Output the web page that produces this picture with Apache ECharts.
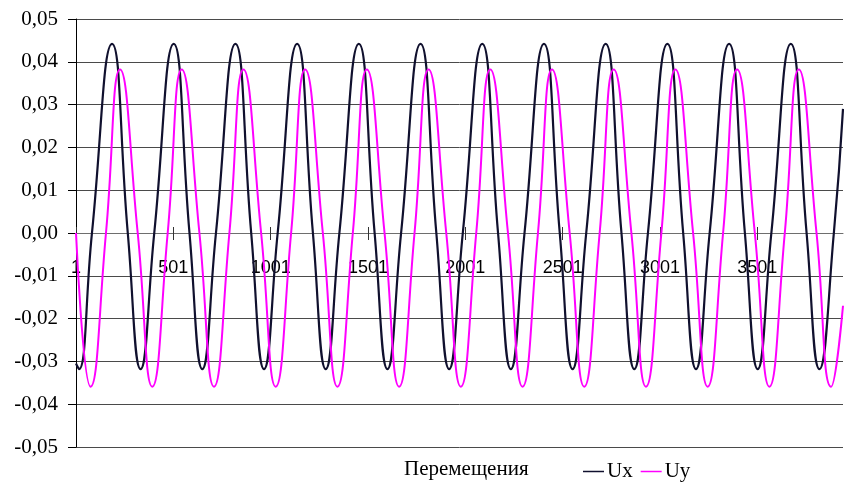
<!DOCTYPE html>
<html>
<head>
<meta charset="utf-8">
<script src="https://cdn.jsdelivr.net/npm/echarts@6/dist/echarts.min.js"></script>
<style>
  html, body { margin: 0; padding: 0; background: #fff; }
  #chart { width: 844px; height: 486px; }
</style>
</head>
<body>
<div id="chart"></div>
<script>
// point numbers (0-based, label shows n+1) and displacement values
const uxIndex = [0, 15, 82, 185, 266, 332, 402, 502, 583, 649, 719, 819, 900,
  966, 1036, 1136, 1217, 1283, 1353, 1453, 1534, 1600, 1670, 1770, 1851,
  1917, 1987, 2087, 2168, 2234, 2304, 2404, 2485, 2551, 2621, 2721, 2802,
  2868, 2938, 3038, 3119, 3185, 3255, 3355, 3436, 3502, 3572, 3672, 3753,
  3819, 3893, 3940]
const uxValue = [-0.0305, -0.0318, 0, 0.0442, 0, -0.0318, 0, 0.0442, 0, -0.0318, 0, 0.0442, 0,
  -0.0318, 0, 0.0442, 0, -0.0318, 0, 0.0442, 0, -0.0318, 0, 0.0442, 0,
  -0.0318, 0, 0.0442, 0, -0.0318, 0, 0.0442, 0, -0.0318, 0, 0.0442, 0,
  -0.0318, 0, 0.0442, 0, -0.0318, 0, 0.0442, 0, -0.0318, 0, 0.0442, 0,
  -0.0318, 0, 0.029]

const uyIndex = [0, 75, 154, 226, 317, 392, 471, 543, 634, 709, 788, 860, 951,
  1026, 1105, 1177, 1268, 1343, 1422, 1494, 1585, 1660, 1739, 1811, 1902,
  1977, 2056, 2128, 2219, 2294, 2373, 2445, 2536, 2611, 2690, 2762, 2853,
  2928, 3007, 3079, 3170, 3245, 3324, 3396, 3487, 3562, 3641, 3713, 3804,
  3879, 3940]
const uyValue = [0, -0.0359, 0, 0.0382, 0, -0.0359, 0, 0.0382, 0, -0.0359, 0, 0.0382, 0,
  -0.0359, 0, 0.0382, 0, -0.0359, 0, 0.0382, 0, -0.0359, 0, 0.0382, 0,
  -0.0359, 0, 0.0382, 0, -0.0359, 0, 0.0382, 0, -0.0359, 0, 0.0382, 0,
  -0.0359, 0, 0.0382, 0, -0.0359, 0, 0.0382, 0, -0.0359, 0, 0.0382, 0,
  -0.0359, -0.017]

const xTicks = [0, 500, 1000, 1500, 2000, 2500, 3000, 3500]
const xMax = 3940
const yMin = -0.05
const yMax = 0.05
const yStep = 0.01

const uxData = uxIndex.map((n, i) => [n, uxValue[i]])
const uyData = uyIndex.map((n, i) => [n, uyValue[i]])

// plot is 428px tall, zero sits in the middle -> shift the x axes by half of it
const zeroShift = -214

const chart = echarts.init(document.getElementById('chart'), null, { renderer: 'canvas' })

chart.setOption({
  animation: false,
  title: {
    text: 'Перемещения',
    left: 399,
    top: 454,
    textStyle: {
      fontFamily: 'Liberation Serif',
      fontSize: 21,
      fontWeight: 'normal',
      color: '#000'
    }
  },
  legend: {
    left: 578,
    top: 456,
    icon: 'rect',
    itemWidth: 21,
    itemHeight: 1.5,
    itemGap: 8,
    textStyle: {
      fontFamily: 'Liberation Serif',
      fontSize: 21,
      color: '#000',
      padding: [0, 0, 0, -2]
    },
    data: ['Ux', 'Uy']
  },
  grid: {
    left: 76,
    right: 1,
    top: 19,
    bottom: 39
  },
  xAxis: [{
    type: 'value',
    position: 'bottom',
    offset: zeroShift,
    min: 0,
    max: xMax,
    interval: 500,
    axisLine: { onZero: false, lineStyle: { color: '#6e6e6e', width: 1 } },
    axisTick: { show: true, customValues: xTicks, length: 7, lineStyle: { color: '#333' } },
    axisLabel: {
      customValues: xTicks,
      margin: 26,
      fontFamily: 'Liberation Sans',
      fontSize: 18,
      color: '#000',
      formatter: v => String(v + 1)
    },
    splitLine: { show: false }
  }, {
    // second copy only for the tick half above the axis line
    type: 'value',
    position: 'top',
    offset: zeroShift,
    min: 0,
    max: xMax,
    interval: 500,
    axisLine: { show: false, onZero: false },
    axisTick: { show: true, customValues: xTicks, length: 6, lineStyle: { color: '#333' } },
    axisLabel: { show: false },
    splitLine: { show: false }
  }],
  yAxis: {
    type: 'value',
    min: yMin,
    max: yMax,
    interval: yStep,
    axisLine: { show: true, lineStyle: { color: '#000' } },
    axisTick: { show: true, length: 8, lineStyle: { color: '#000' } },
    axisLabel: {
      margin: 18,
      fontFamily: 'Liberation Serif',
      fontSize: 21,
      color: '#000',
      formatter: v => v.toFixed(2).replace('.', ',')
    },
    splitLine: { show: true, lineStyle: { color: '#4a4a4a', width: 1 } }
  },
  series: [{
    name: 'Ux',
    type: 'line',
    data: uxData,
    smooth: 0.5,
    symbol: 'none',
    lineStyle: { color: '#10102e', width: 2.2 },
    itemStyle: { color: '#10102e' }
  }, {
    name: 'Uy',
    type: 'line',
    data: uyData,
    smooth: 0.5,
    symbol: 'none',
    lineStyle: { color: '#ff00ff', width: 2 },
    itemStyle: { color: '#ff00ff' }
  }]
})
</script>
</body>
</html>
